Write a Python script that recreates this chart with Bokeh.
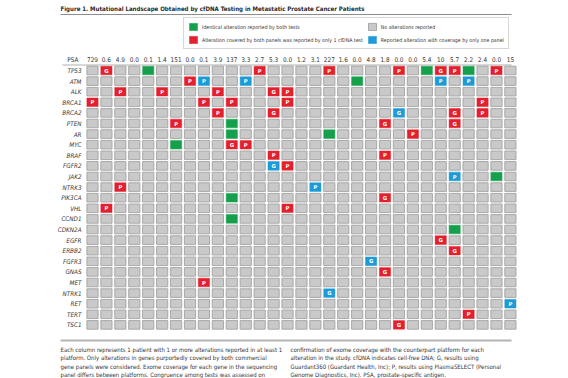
from bokeh.plotting import figure
from bokeh.models import Range1d, Legend, LegendItem, ColumnDataSource
from bokeh.core.properties import value
from bokeh.embed import file_html
from bokeh.resources import INLINE

# ---------------- data ----------------
genes = ["TP53", "ATM", "ALK", "BRCA1", "BRCA2", "PTEN", "AR", "MYC", "BRAF", "FGFR2",
         "JAK2", "NTRK3", "PIK3CA", "VHL", "CCND1", "CDKN2A", "EGFR", "ERBB2", "FGFR3",
         "GNAS", "MET", "NTRK1", "RET", "TERT", "TSC1"]
psa = ["729", "0.6", "4.9", "0.0", "0.1", "1.4", "151", "0.0", "0.1", "3.9", "137", "3.3",
       "2.7", "5.3", "0.0", "1.2", "3.1", "227", "1.6", "0.0", "4.8", "1.8", "0.0", "0.0",
       "5.4", "10", "5.7", "2.2", "2.4", "0.0", "15"]

# identical alteration reported by both tests (green)
identical_gene = ["TP53", "TP53", "TP53", "ATM", "PTEN", "AR", "AR", "MYC", "JAK2",
                  "PIK3CA", "CCND1", "CDKN2A"]
identical_col = [4, 24, 27, 19, 10, 10, 17, 6, 29, 10, 10, 26]

# alteration covered by both panels, reported by only 1 test (red)
single_gene = ["TP53", "TP53", "TP53", "TP53", "TP53", "TP53", "TP53",
               "ATM",
               "ALK", "ALK", "ALK", "ALK", "ALK",
               "BRCA1", "BRCA1", "BRCA1", "BRCA1", "BRCA1",
               "BRCA2", "BRCA2", "BRCA2", "BRCA2",
               "PTEN", "PTEN", "PTEN",
               "AR", "MYC", "MYC", "BRAF", "BRAF", "FGFR2", "NTRK3", "PIK3CA",
               "VHL", "VHL", "EGFR", "ERBB2", "GNAS", "MET", "TERT", "TSC1"]
single_col = [1, 12, 17, 22, 25, 26, 29,
              7,
              2, 5, 9, 13, 14,
              0, 8, 10, 14, 28,
              9, 13, 26, 28,
              6, 21, 26,
              23, 10, 11, 13, 21, 14, 2, 21,
              1, 14, 25, 26, 21, 8, 27, 22]
single_src = ["G", "P", "P", "P", "G", "P", "P",
              "P",
              "P", "P", "P", "G", "P",
              "P", "P", "P", "P", "P",
              "P", "G", "G", "P",
              "P", "G", "G",
              "P", "G", "P", "P", "P", "P", "P", "G",
              "P", "P", "G", "G", "G", "P", "P", "G"]

# reported alteration with coverage by only one panel (blue)
onepanel_gene = ["ATM", "ATM", "ATM", "ATM", "BRCA2", "FGFR2", "JAK2", "NTRK3", "FGFR3",
                 "NTRK1", "RET"]
onepanel_col = [8, 11, 25, 27, 22, 13, 26, 16, 20, 17, 30]
onepanel_src = ["P", "P", "P", "P", "G", "G", "P", "P", "G", "G", "P"]

title_text = "Figure 1. Mutational Landscape Obtained by cfDNA Testing in Metastatic Prostate Cancer Patients"
legend_labels = ["Identical alteration reported by both tests",
                 "Alteration covered by both panels was reported by only 1 cfDNA test",
                 "No alterations reported",
                 "Reported alteration with coverage by only one panel"]
note_left = ["Each column represents 1 patient with 1 or more alterations reported in at least 1",
             "platform. Only alterations in genes purportedly covered by both commercial",
             "gene panels were considered. Exome coverage for each gene in the sequencing",
             "panel differs between platforms. Congruence among tests was assessed on"]
note_right = ["confirmation of exome coverage with the counterpart platform for each",
              "alteration in the study. cfDNA indicates cell-free DNA; G, results using",
              "Guardant360 (Guardant Health, Inc); P, results using PlasmaSELECT (Personal",
              "Genome Diagnostics, Inc). PSA, prostate-specific antigen."]

# ---------------- styles / layout ----------------
GREEN, RED, BLUE = "#16a04d", "#e3202d", "#1c9bd7"
GRAY_FILL, GRAY_LINE = "#c9c9c9", "#a2a2a2"
FONT = "Liberation Sans Narrow, DejaVu Sans Condensed, sans-serif"
TXT = "#333333"

W, H = 568, 378
PX, PY = 13.93, 10.6         # pixels per column / row
C0X, R0Y = 92.0, 70.0        # pixel centre of first column / first row


def fx(px):
    return (px - C0X) / PX


def fy(py):
    return (py - R0Y) / PY


p = figure(width=W, height=H, output_backend="svg", toolbar_location=None,
           x_range=Range1d(fx(0), fx(W)), y_range=Range1d(fy(H), fy(0)),
           min_border=0, x_axis_location=None, y_axis_location=None,
           outline_line_color=None, background_fill_color="white",
           border_fill_color="white")
p.grid.visible = False

row_of = {g: i for i, g in enumerate(genes)}
CW, CH = 11.2 / PX, 8.6 / PY

# gray cells: every patient/gene pair without a reported alteration
taken = set(zip(identical_gene, identical_col)) | set(zip(single_gene, single_col)) | \
    set(zip(onepanel_gene, onepanel_col))
gx, gy = [], []
for g in genes:
    for c in range(len(psa)):
        if (g, c) not in taken:
            gx.append(c)
            gy.append(row_of[g])

r_gray = p.rect(x=gx, y=gy, width=CW, height=CH, fill_color=GRAY_FILL,
                line_color=GRAY_LINE, line_width=0.9)
r_green = p.rect(x=identical_col, y=[row_of[g] for g in identical_gene], width=CW,
                 height=CH, fill_color=GREEN, line_color=GREEN, line_width=0.5)
r_red = p.rect(x=single_col, y=[row_of[g] for g in single_gene], width=CW, height=CH,
               fill_color=RED, line_color=RED, line_width=0.5)
r_blue = p.rect(x=onepanel_col, y=[row_of[g] for g in onepanel_gene], width=CW,
                height=CH, fill_color=BLUE, line_color=BLUE, line_width=0.5)

cell_txt = ColumnDataSource(dict(
    x=single_col + onepanel_col,
    y=[row_of[g] for g in single_gene] + [row_of[g] for g in onepanel_gene],
    t=single_src + onepanel_src))
p.text(x="x", y="y", text="t", source=cell_txt, text_color="white",
       text_font=value("DejaVu Sans"), text_font_style="bold", text_font_size="5.3px",
       text_align="center", text_baseline="middle")

# gene labels
p.text(x=[fx(81)] * len(genes), y=list(range(len(genes))), text=genes,
       text_font=value(FONT), text_font_style="italic", text_font_size="6.3px",
       text_color=TXT, text_align="right", text_baseline="middle")

# PSA header
p.text(x=list(range(len(psa))), y=[fy(59)] * len(psa), text=psa,
       text_font=value(FONT), text_font_size="6.4px", text_color=TXT,
       text_align="center", text_baseline="middle")
p.text(x=[fx(78)], y=[fy(59)], text=["PSA"], text_font=value(FONT),
       text_font_size="6.4px", text_color=TXT, text_align="right",
       text_baseline="middle")

# rules
p.segment(x0=[fx(60)], y0=[fy(14)], x1=[fx(511)], y1=[fy(14)], line_color="#8c8c8c",
          line_width=1)
p.segment(x0=[fx(62)], y0=[fy(64.5)], x1=[fx(511)], y1=[fy(64.5)],
          line_color="#9a9a9a", line_width=0.8)
p.segment(x0=[fx(60)], y0=[fy(340)], x1=[fx(511)], y1=[fy(340)],
          line_color="#b4b4b4", line_width=2)

# title
p.text(x=[fx(60)], y=[fy(8)], text=[title_text], text_font=value(FONT),
       text_font_style="bold", text_font_size="6.1px", text_color="#2a2a2a",
       text_align="left", text_baseline="middle")

# footnotes
ys = [fy(349), fy(357.3), fy(365.6), fy(373.9)]
p.text(x=[fx(60)] * 4, y=ys, text=note_left, text_font=value(FONT),
       text_font_size="6px", text_color=TXT, text_align="left", text_baseline="middle")
p.text(x=[fx(290)] * 4, y=ys, text=note_right, text_font=value(FONT),
       text_font_size="6px", text_color=TXT, text_align="left", text_baseline="middle")

# legend
legend = Legend(items=[LegendItem(label=legend_labels[0], renderers=[r_green]),
                       LegendItem(label=legend_labels[1], renderers=[r_red]),
                       LegendItem(label=legend_labels[2], renderers=[r_gray]),
                       LegendItem(label=legend_labels[3], renderers=[r_blue])],
                location=(183, H - 49), ncols=2,
                border_line_color="#b0b0b0", border_line_width=1,
                background_fill_color="white", background_fill_alpha=1,
                label_text_font=FONT, label_text_font_size="5.2px", label_text_color=TXT,
                glyph_width=10, glyph_height=9, label_height=9, label_standoff=4,
                spacing=4, padding=4, margin=0)
p.add_layout(legend)

open("out.html", "w").write(file_html(p, INLINE))
